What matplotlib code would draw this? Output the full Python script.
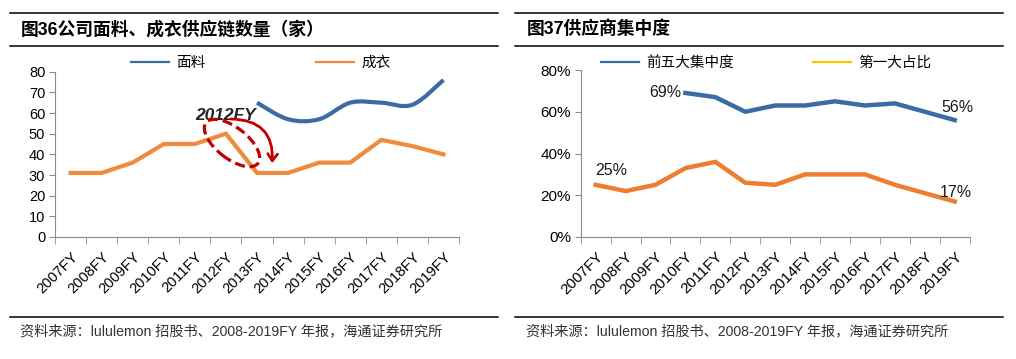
import numpy as np
import matplotlib.pyplot as plt
from matplotlib.path import Path
from matplotlib.patches import PathPatch, Ellipse, FancyArrowPatch
from matplotlib.lines import Line2D
from matplotlib.transforms import IdentityTransform

# ---- data ----
years = ['2007FY', '2008FY', '2009FY', '2010FY', '2011FY', '2012FY', '2013FY',
         '2014FY', '2015FY', '2016FY', '2017FY', '2018FY', '2019FY']
nan = float('nan')
fabric = [nan, nan, nan, nan, nan, nan, 65, 57, 57, 65, 65, 64, 76]       # 面料
garment = [31, 31, 36, 45, 45, 50, 31, 31, 36, 36, 47, 44, 40]           # 成衣
top5 = [nan, nan, nan, 69, 67, 60, 63, 63, 65, 63, 64, 60, 56]           # 前五大集中度 (%)
top1 = [25, 22, 25, 33, 36, 26, 25, 30, 30, 30, 25, 21, 17]              # 第一大占比 (%)

W, H = 1016, 359
BLUE = '#3B6BA5'
ORANGE = '#F08A3C'
ORANGE2 = '#EE7D30'
GRAY = '#8C8C8C'
CJK = ['Liberation Sans', 'Noto Sans CJK SC']
plt.rcParams['font.family'] = ['Liberation Sans', 'Noto Sans CJK SC']


def fx(x):
    return x / W


def fy(y):
    return 1 - y / H


def smooth_path(x, y):
    # Excel-like smoothed line through the data points (cubic Bezier segments)
    pts = np.column_stack([x, y])
    verts = [pts[0]]
    codes = [Path.MOVETO]
    n = len(pts)
    for i in range(n - 1):
        p0 = pts[max(i - 1, 0)]
        p1 = pts[i]
        p2 = pts[i + 1]
        p3 = pts[min(i + 2, n - 1)]
        verts += [p1 + (p2 - p0) / 6, p2 - (p3 - p1) / 6, p2]
        codes += [Path.CURVE4] * 3
    return Path(verts, codes)


def style_axes(ax, fs):
    n = len(years)
    ax.set_xlim(-0.5, n - 0.5)
    ax.set_xticks(range(n))
    ax.set_xticklabels(years, rotation=45, ha='right', rotation_mode='anchor', fontsize=fs)
    ax.set_xticks(np.arange(-0.5, n), minor=True)
    ax.tick_params(axis='x', which='major', length=0, pad=9)
    ax.tick_params(axis='x', which='minor', length=5, color=GRAY, direction='out')
    ax.tick_params(axis='y', length=4, color=GRAY, labelsize=fs, pad=3)
    for s in ['top', 'right']:
        ax.spines[s].set_visible(False)
    for s in ['left', 'bottom']:
        ax.spines[s].set_color(GRAY)
    ax.patch.set_alpha(0)


fig = plt.figure(figsize=(W / 100, H / 100), dpi=100)
x = np.arange(len(years))

# ---- left chart ----
ax1 = fig.add_axes([fx(55), fy(237), fx(459) - fx(55), fy(71.7) - fy(237)])
ax1.set_ylim(0, 80)
ax1.set_yticks(range(0, 81, 10))
style_axes(ax1, 10.5)
ax1.plot(x, garment, color=ORANGE, lw=3, solid_joinstyle='miter', clip_on=False)
fab = np.array(fabric)
ok = ~np.isnan(fab)
ax1.add_patch(PathPatch(smooth_path(x[ok], fab[ok]), fill=False, ec=BLUE, lw=3, clip_on=False))

# annotation: 2012FY
ax1.text(5.0, 59, '2012FY', fontsize=12.5, fontweight='bold', fontstyle='italic',
         color='#262626', ha='center', va='center')
ex, ey = 232, H - 143
ell = Ellipse((ex, ey), 66, 31, angle=-38, transform=IdentityTransform(),
              fill=False, ec='#C00000', lw=2.3, ls=(0, (3.2, 1.5)))
ell.set_clip_on(False)
fig.add_artist(ell)
arrow = FancyArrowPatch((228, H - 119), (272, H - 166), transform=IdentityTransform(),
                        connectionstyle='arc3,rad=-0.55', arrowstyle='->,head_length=5,head_width=3.5',
                        color='#C00000', lw=2)
fig.add_artist(arrow)

fig.legend(handles=[Line2D([], [], color=BLUE, lw=1.6), Line2D([], [], color=ORANGE, lw=1.6)],
           labels=['面料', '成衣'], loc='center left', bbox_to_anchor=(fx(118), fy(63)),
           ncol=2, frameon=False, fontsize=10.5, handlelength=2.6, handletextpad=0.5,
           columnspacing=7.6)

# ---- right chart ----
ax2 = fig.add_axes([fx(580.7), fy(237), fx(969.7) - fx(580.7), fy(70) - fy(237)])
ax2.set_ylim(0, 80)
ax2.set_yticks(range(0, 81, 20))
ax2.set_yticklabels(['{}%'.format(v) for v in range(0, 81, 20)])
style_axes(ax2, 11)
ax2.plot(x, top5, color=BLUE, lw=3.2, solid_joinstyle='round', clip_on=False)
ax2.plot(x, top1, color=ORANGE2, lw=3.2, solid_joinstyle='round', clip_on=False)

lbl = dict(fontsize=11.5, color='#1a1a1a', textcoords='offset points')
ax2.annotate('{}%'.format(top5[3]), (x[3], top5[3]), xytext=(-3, 0), ha='right', va='center', **lbl)
ax2.annotate('{}%'.format(top5[-1]), (x[-1], top5[-1]), xytext=(2, 4), ha='center', va='bottom', **lbl)
ax2.annotate('{}%'.format(top1[0]), (x[0], top1[0]), xytext=(11, 5), ha='center', va='bottom', **lbl)
ax2.annotate('{}%'.format(top1[-1]), (x[-1], top1[-1]), xytext=(1, 1), ha='center', va='bottom', **lbl)

fig.legend(handles=[Line2D([], [], color=BLUE, lw=1.6), Line2D([], [], color='#FFC000', lw=1.6)],
           labels=['前五大集中度', '第一大占比'], loc='center left', bbox_to_anchor=(fx(588), fy(63)),
           ncol=2, frameon=False, fontsize=10.5, handlelength=2.6, handletextpad=0.5,
           columnspacing=5.4)

# ---- titles, rules and sources ----
for x0, x1, title, tx in [(10, 498, '图36公司面料、成衣供应链数量（家）', 21),
                          (515, 1003, '图37供应商集中度', 527)]:
    for yy in (13, 46):
        fig.add_artist(Line2D([fx(x0), fx(x1)], [fy(yy), fy(yy)], color='black', lw=1.1,
                              transform=fig.transFigure))
    fig.add_artist(Line2D([fx(x0), fx(x1)], [fy(317), fy(317)], color='black', lw=1.1,
                          transform=fig.transFigure))
    fig.text(fx(tx), fy(29.5), title, fontsize=12.8, fontweight='bold', va='center', ha='left',
             family=CJK)
    fig.text(fx(tx - 1), fy(331), '资料来源：lululemon 招股书、2008-2019FY 年报，海通证券研究所',
             fontsize=10.2, va='center', ha='left', color='#333333', family=CJK)

fig.savefig('out.png', dpi=100)
